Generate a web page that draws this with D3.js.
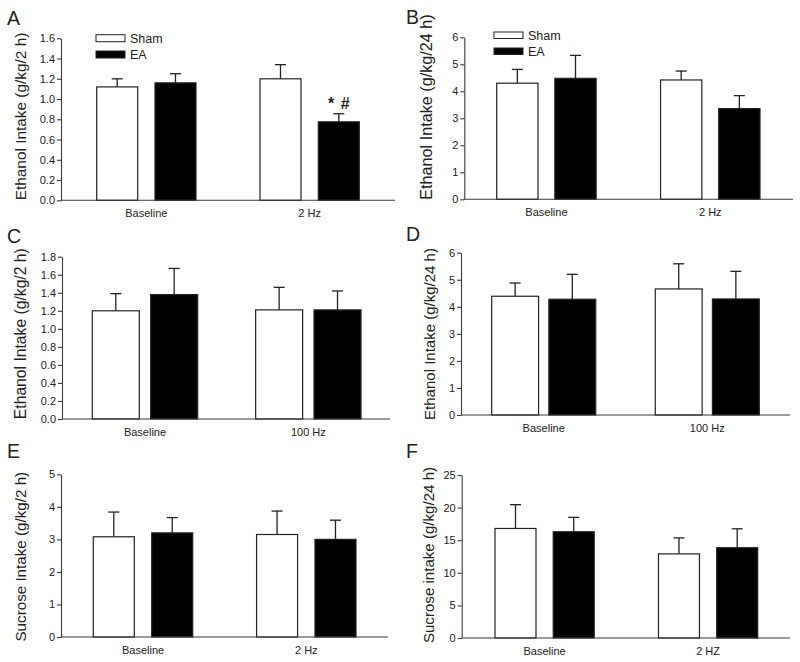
<!DOCTYPE html>
<html>
<head>
<meta charset="utf-8">
<script src="https://cdn.jsdelivr.net/npm/d3@7"></script>
<style>
  html, body { margin: 0; padding: 0; background: #fff; }
  svg { display: block; font-family: "Liberation Sans", Arial, Helvetica, sans-serif; }
</style>
</head>
<body>
<svg id="chart" width="800" height="662"></svg>
<script>
// ---------------- DATA ----------------
const series = ["Sham", "EA"];

const categoriesA = ["Baseline", "2 Hz"];
const shamA = [1.12, 1.20];
const shamErrA = [0.08, 0.14];
const eaA = [1.16, 0.775];
const eaErrA = [0.09, 0.08];
const ticksA = [0, 0.2, 0.4, 0.6, 0.8, 1.0, 1.2, 1.4, 1.6];

const categoriesB = ["Baseline", "2 Hz"];
const shamB = [4.30, 4.42];
const shamErrB = [0.51, 0.33];
const eaB = [4.48, 3.36];
const eaErrB = [0.85, 0.48];
const ticksB = [0, 1, 2, 3, 4, 5, 6];

const categoriesC = ["Baseline", "100 Hz"];
const shamC = [1.20, 1.21];
const shamErrC = [0.19, 0.25];
const eaC = [1.38, 1.21];
const eaErrC = [0.29, 0.21];
const ticksC = [0, 0.2, 0.4, 0.6, 0.8, 1.0, 1.2, 1.4, 1.6, 1.8];

const categoriesD = ["Baseline", "100 Hz"];
const shamD = [4.39, 4.66];
const shamErrD = [0.49, 0.93];
const eaD = [4.28, 4.29];
const eaErrD = [0.92, 1.02];
const ticksD = [0, 1, 2, 3, 4, 5, 6];

const categoriesE = ["Baseline", "2 Hz"];
const shamE = [3.08, 3.15];
const shamErrE = [0.76, 0.72];
const eaE = [3.20, 3.00];
const eaErrE = [0.47, 0.59];
const ticksE = [0, 1, 2, 3, 4, 5];

const categoriesF = ["Baseline", "2 HZ"];
const shamF = [16.8, 12.9];
const shamErrF = [3.65, 2.45];
const eaF = [16.3, 13.85];
const eaErrF = [2.2, 2.9];
const ticksF = [0, 5, 10, 15, 20, 25];

// ---------------- LAYOUT (per panel) ----------------
const panels = [
  { letter: "A", lx: 7, ly: 25, title: "Ethanol Intake (g/kg/2 h)", tfs: 15.4, tx: 26, tcy: 116.5,
    cats: categoriesA, sham: shamA, shamErr: shamErrA, ea: eaA, eaErr: eaErrA, ticks: ticksA, fmt: ".1f",
    axisX: 61, axisEnd: 395, bars: [96.7, 359.3], yTop: 38.3, yBot: 200.3, pi: 0.392, sp: 0.297,
    legend: { x: 96, y1: 34.7, y2: 51, h: 7 }, annot: { idx: 1, text: "* #" } },
  { letter: "B", lx: 406, ly: 24, title: "Ethanol Intake (g/kg/24 h)", tfs: 16.2, tx: 432, tcy: 107,
    cats: categoriesB, sham: shamB, shamErr: shamErrB, ea: eaB, eaErr: eaErrB, ticks: ticksB, fmt: "d",
    axisX: 464.3, axisEnd: 793, bars: [496.7, 760], yTop: 37.3, yBot: 199.3, pi: 0.393, sp: 0.29,
    legend: { x: 494, y1: 32, y2: 48, h: 6.5 } },
  { letter: "C", lx: 7, ly: 243, title: "Ethanol Intake (g/kg/2 h)", tfs: 15.7, tx: 26, tcy: 333.7,
    cats: categoriesC, sham: shamC, shamErr: shamErrC, ea: eaC, eaErr: eaErrC, ticks: ticksC, fmt: ".1f",
    axisX: 62, axisEnd: 390, bars: [92.3, 361], yTop: 256.7, yBot: 419, pi: 0.355, sp: 0.195 },
  { letter: "D", lx: 406, ly: 241, title: "Ethanol Intake (g/kg/24 h)", tfs: 15.0, tx: 435, tcy: 334,
    cats: categoriesD, sham: shamD, shamErr: shamErrD, ea: eaD, eaErr: eaErrD, ticks: ticksD, fmt: "d",
    axisX: 461, axisEnd: 790, bars: [491.7, 759.3], yTop: 252.7, yBot: 415, pi: 0.364, sp: 0.18 },
  { letter: "E", lx: 7, ly: 458, title: "Sucrose Intake (g/kg/2 h)", tfs: 15.2, tx: 26, tcy: 556.7,
    cats: categoriesE, sham: shamE, shamErr: shamErrE, ea: eaE, eaErr: eaErrE, ticks: ticksE, fmt: "d",
    axisX: 61, axisEnd: 388, bars: [93.3, 356], yTop: 474.3, yBot: 637, pi: 0.391, sp: 0.298 },
  { letter: "F", lx: 406, ly: 458, title: "Sucrose intake (g/kg/24 h)", tfs: 15.1, tx: 434, tcy: 555,
    cats: categoriesF, sham: shamF, shamErr: shamErrF, ea: eaF, eaErr: eaErrF, ticks: ticksF, fmt: "d",
    axisX: 461.7, axisEnd: 790, bars: [495, 757.7], yTop: 475, yBot: 638, pi: 0.393, sp: 0.296 }
];

const AXIS = "#3a3a3a";
const TEXT = "#222";
const svg = d3.select("#chart");

panels.forEach(p => {
  const g = svg.append("g");
  const yMax = p.ticks[p.ticks.length - 1];
  const y = d3.scaleLinear().domain([0, yMax]).range([p.yBot, p.yTop]);
  const x0 = d3.scaleBand().domain(p.cats).range(p.bars).paddingInner(p.pi).paddingOuter(0);
  const x1 = d3.scaleBand().domain(series).range([0, x0.bandwidth()]).paddingInner(p.sp).paddingOuter(0);

  const rows = p.cats.map((c, i) => ({
    cat: c,
    vals: [
      { s: "Sham", v: p.sham[i], e: p.shamErr[i] },
      { s: "EA", v: p.ea[i], e: p.eaErr[i] }
    ]
  }));

  // panel letter
  g.append("text").attr("x", p.lx).attr("y", p.ly)
    .attr("font-size", 19.5).attr("fill", TEXT).text(p.letter);

  // y axis title
  g.append("text")
    .attr("transform", `translate(${p.tx},${p.tcy}) rotate(-90)`)
    .attr("text-anchor", "middle")
    .attr("font-size", p.tfs).attr("fill", TEXT).text(p.title);

  // y axis
  const yAxis = d3.axisLeft(y).tickValues(p.ticks).tickFormat(d3.format(p.fmt))
    .tickSize(4).tickSizeOuter(0).tickPadding(2);
  const ya = g.append("g").attr("transform", `translate(${p.axisX},0)`).call(yAxis);
  ya.selectAll("path, line").attr("stroke", AXIS).attr("stroke-width", 1.1);
  ya.selectAll("text").attr("font-size", 11).attr("fill", TEXT).attr("font-family", null);

  // bars and error bars
  const grp = g.selectAll(".grp").data(rows).join("g")
    .attr("transform", d => `translate(${x0(d.cat)},0)`);

  grp.selectAll(".err").data(d => d.vals).join("line")
    .attr("x1", d => x1(d.s) + x1.bandwidth() / 2)
    .attr("x2", d => x1(d.s) + x1.bandwidth() / 2)
    .attr("y1", d => y(d.v)).attr("y2", d => y(d.v + d.e))
    .attr("stroke", "#222").attr("stroke-width", 1.3);
  grp.selectAll(".cap").data(d => d.vals).join("line")
    .attr("x1", d => x1(d.s) + x1.bandwidth() / 2 - 5.5)
    .attr("x2", d => x1(d.s) + x1.bandwidth() / 2 + 5.5)
    .attr("y1", d => y(d.v + d.e)).attr("y2", d => y(d.v + d.e))
    .attr("stroke", "#222").attr("stroke-width", 1.3);

  grp.selectAll(".bar").data(d => d.vals).join("rect")
    .attr("x", d => x1(d.s)).attr("width", x1.bandwidth())
    .attr("y", d => y(d.v)).attr("height", d => y(0) - y(d.v))
    .attr("fill", d => d.s === "Sham" ? "#fff" : "#000")
    .attr("stroke", "#222").attr("stroke-width", 1.2);

  // x axis baseline
  g.append("line").attr("x1", p.axisX).attr("x2", p.axisEnd)
    .attr("y1", y(0)).attr("y2", y(0)).attr("stroke", AXIS).attr("stroke-width", 1.1);

  // category labels
  const xa = g.append("g").attr("transform", `translate(0,${y(0)})`)
    .call(d3.axisBottom(x0).tickSize(0).tickPadding(9));
  xa.select(".domain").remove();
  xa.selectAll("text").attr("font-size", 11).attr("fill", TEXT).attr("font-family", null);

  // legend
  if (p.legend) {
    const L = p.legend;
    [["Sham", L.y1, "#fff"], ["EA", L.y2, "#000"]].forEach(([name, yy, fill]) => {
      g.append("rect").attr("x", L.x).attr("y", yy).attr("width", 29).attr("height", L.h)
        .attr("fill", fill).attr("stroke", "#222").attr("stroke-width", 1);
      g.append("text").attr("x", L.x + 34).attr("y", yy + L.h / 2 + 4.3)
        .attr("font-size", 12.5).attr("fill", TEXT).text(name);
    });
  }

  // significance annotation
  if (p.annot) {
    const i = p.annot.idx;
    const cx = x0(p.cats[i]) + x1("EA") + x1.bandwidth() / 2;
    g.append("text").attr("x", cx).attr("y", y(p.ea[i] + p.eaErr[i]) - 5)
      .attr("text-anchor", "middle").attr("font-size", 16).attr("font-weight", "bold")
      .attr("fill", TEXT).attr("word-spacing", 2).text(p.annot.text);
  }
});
</script>
</body>
</html>
